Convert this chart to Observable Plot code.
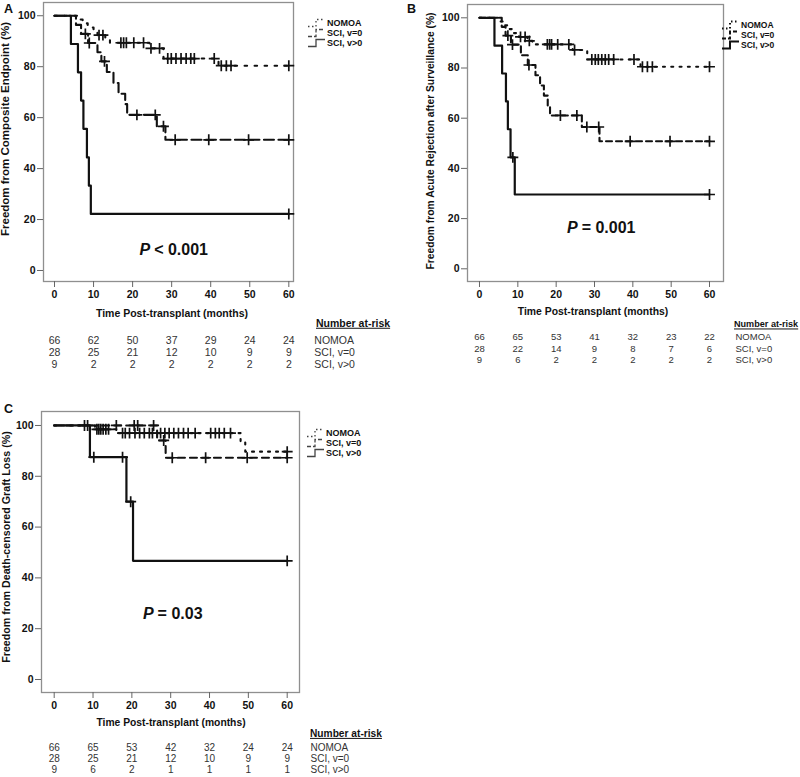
<!DOCTYPE html>
<html>
<head>
<meta charset="utf-8">
<script src="https://cdn.jsdelivr.net/npm/d3@7"></script>
<script src="https://cdn.jsdelivr.net/npm/@observablehq/plot@0.6"></script>
<style>
  body { margin: 0; background: #fff; }
  #root { position: relative; width: 800px; height: 777px; overflow: hidden; background: #fff;
          font-family: "Liberation Sans", Arial, sans-serif; color: #111; }
  .panel { position: absolute; }
  .t { position: absolute; white-space: nowrap; font-weight: bold; line-height: 1; }
  .rot { transform: translate(-50%, -50%) rotate(-90deg); }
  .ctr { transform: translate(-50%, -50%); }
  .mid { transform: translateY(-50%); }
  .hdr { text-decoration: underline; }
  .leg { position: absolute; display: flex; align-items: center; white-space: nowrap; font-weight: bold; line-height: 1; transform: translateY(-50%); }
  .leg svg { margin-right: 1px; }
</style>
</head>
<body>
<div id="root"></div>
<script>
// ---------------- DATA ----------------
const xTicks = [0, 10, 20, 30, 40, 50, 60];
const yTicks = [0, 20, 40, 60, 80, 100];
const groups = ["NOMOA", "SCI, v=0", "SCI, v>0"];

// Panel A: Freedom from Composite Endpoint
const aNomoaTime = [0, 6.0, 7.2, 8.5, 10.0, 11.0, 13.0, 14.2, 24.3, 27.9, 42.0, 60];
const aNomoaSurv = [100, 98.5, 97.0, 95.4, 93.9, 92.4, 90.8, 89.4, 87.2, 83.2, 80.4, 80.4];
const aNomoaCens = [11.4, 12.4, 17.0, 17.7, 18.4, 20.3, 22.8, 24.7, 26.9, 29.0, 29.9, 31.1, 32.4, 33.7, 34.9, 35.8, 40.9, 42.7, 44.0, 45.2, 60];
const aV0Time = [0, 5.5, 6.8, 8.6, 11.0, 12.0, 13.4, 15.1, 16.4, 18.1, 18.6, 26.2, 28.4, 60];
const aV0Surv = [100, 96.4, 92.9, 89.3, 85.7, 82.1, 77.9, 73.6, 69.4, 65.3, 61.1, 56.6, 51.3, 51.3];
const aV0Cens = [7.9, 8.9, 12.8, 21.1, 25.8, 27.9, 30.9, 39.5, 49.7, 60];
const aVpTime = [0, 4.2, 6.0, 6.8, 7.4, 8.3, 8.8, 9.3, 60];
const aVpSurv = [100, 88.9, 77.8, 66.7, 55.6, 44.4, 33.3, 22.2, 22.2];
const aVpCens = [60];
const aRiskNomoa = [66, 62, 50, 37, 29, 24, 24];
const aRiskV0 = [28, 25, 21, 12, 10, 9, 9];
const aRiskVp = [9, 2, 2, 2, 2, 2, 2];

// Panel B: Freedom from Acute Rejection after Surveillance
const bNomoaTime = [0, 5.2, 6.2, 7.5, 9.0, 10.3, 12.5, 13.8, 24.3, 28.1, 42.0, 60];
const bNomoaSurv = [100, 98.5, 97.0, 95.5, 93.9, 92.4, 90.8, 89.4, 87.2, 83.4, 80.5, 80.5];
const bNomoaCens = [10.7, 11.9, 13.0, 17.7, 18.3, 18.8, 20.4, 23.3, 24.8, 29.3, 30.2, 31.0, 31.9, 32.8, 33.7, 35.0, 40.3, 42.5, 43.8, 45.1, 60];
const bV0Time = [0, 5.8, 6.8, 8.2, 10.8, 12.6, 14.6, 15.8, 16.8, 17.8, 18.4, 26.7, 31.3, 60];
const bV0Surv = [100, 96.4, 92.9, 89.3, 85.1, 81.2, 77.1, 73.0, 69.0, 65.0, 61.1, 56.5, 50.8, 50.8];
const bV0Cens = [7.4, 8.6, 12.9, 21.1, 25.4, 28.0, 31.1, 39.3, 49.7, 60];
const bVpTime = [0, 3.9, 5.9, 6.9, 7.4, 8.1, 9.2, 60];
const bVpSurv = [100, 88.9, 77.8, 66.7, 55.6, 44.4, 29.6, 29.6];
const bVpCens = [8.7, 60];
const bRiskNomoa = [66, 65, 53, 41, 32, 23, 22];
const bRiskV0 = [28, 22, 14, 9, 8, 7, 6];
const bRiskVp = [9, 6, 2, 2, 2, 2, 2];

// Panel C: Freedom from Death-censored Graft Loss
const cNomoaTime = [0, 10.5, 16.3, 48.0, 49.2, 60];
const cNomoaSurv = [100, 98.5, 97.0, 93.3, 89.7, 89.7];
const cNomoaCens = [11.0, 11.5, 12.0, 12.6, 13.3, 14.0, 17.6, 18.3, 19.4, 20.8, 22.0, 23.2, 24.5, 25.3, 27.4, 28.5, 29.6, 30.8, 32.0, 33.3, 34.5, 36.3, 40.3, 41.5, 42.5, 43.8, 45.4, 60];
const cV0Time = [0, 26.5, 28.7, 60];
const cV0Surv = [100, 94.1, 87.3, 87.3];
const cV0Cens = [16.0, 20.6, 21.5, 25.6, 28.2, 30.4, 39.0, 49.7, 60];
const cVpTime = [0, 9.2, 18.6, 20.3, 60];
const cVpSurv = [100, 87.5, 70.0, 46.7, 46.7];
const cVpCens = [7.8, 8.6, 10.2, 17.6, 19.7, 60];
const cRiskNomoa = [66, 65, 53, 42, 32, 24, 24];
const cRiskV0 = [28, 25, 21, 12, 10, 9, 9];
const cRiskVp = [9, 6, 2, 1, 1, 1, 1];

const yTitles = ["Freedom from Composite Endpoint (%)", "Freedom from Acute Rejection after Surveillance (%)", "Freedom from Death-censored Graft Loss (%)"];
const xTitle = "Time Post-transplant (months)";
const panelLetters = ["A", "B", "C"];
const pOps = ["< 0.001", "= 0.001", "= 0.03"];
const riskHeader = "Number at-risk";

// ---------------- LAYOUT ----------------
const FONT = '"Liberation Sans", Arial, sans-serif';
const panels = [
  { letter: panelLetters[0], left: 0, top: 0, height: 380, m: [2, 107, 99, 43],
    xd: [-2.82, 61.2], yd: [-4.32, 105.2],
    curves: [[aNomoaTime, aNomoaSurv, aNomoaCens], [aV0Time, aV0Surv, aV0Cens], [aVpTime, aVpSurv, aVpCens]],
    risk: [aRiskNomoa, aRiskV0, aRiskVp], riskDy: [62, 74, 86], riskDx: 25.5, riskSize: 10.5,
    dash: ["2.5,7.5", "10,4.5", null], pAt: [24.5, 7.9], pOp: pOps[0],
    yTitle: yTitles[0], yT: [6, 129, 11.5], xT: [172, 313, 10.5], letterPos: [4, 3],
    leg: [308, [23.3, 33.3, 43.3], 9, "#444", 1.3], hdr: [316, 323, 10.5] },
  { letter: panelLetters[1], left: 400, top: 0, height: 380, m: [4, 77, 99, 67],
    xd: [-3.13, 63.65], yd: [-5.06, 105.3],
    curves: [[bNomoaTime, bNomoaSurv, bNomoaCens], [bV0Time, bV0Surv, bV0Cens], [bVpTime, bVpSurv, bVpCens]],
    risk: [bRiskNomoa, bRiskV0, bRiskVp], riskDy: [58, 70, 81], riskDx: 26, riskSize: 9.5,
    dash: ["2,6.3", "6,4", null], pAt: [25.6, 16.5], pOp: pOps[1],
    yTitle: yTitles[1], yT: [431, 141, 10.3], xT: [593, 312, 10.4], letterPos: [407, 3],
    leg: [722, [25, 35, 45], 8.5, "#111", 2], hdr: [734, 325, 9.1] },
  { letter: panelLetters[2], left: 0, top: 400, height: 377, m: [11, 101, 85, 41],
    xd: [-3.27, 63.17], yd: [-5.12, 105.5],
    curves: [[cNomoaTime, cNomoaSurv, cNomoaCens], [cV0Time, cV0Surv, cV0Cens], [cVpTime, cVpSurv, cVpCens]],
    risk: [cRiskNomoa, cRiskV0, cRiskVp], riskDy: [58, 69, 80], riskDx: 23.3, riskSize: 10,
    dash: ["2,6", "7,5", null], pAt: [25.6, 26.0], pOp: pOps[2],
    yTitle: yTitles[2], yT: [6, 547, 10.7], xT: [171, 723, 10.3], letterPos: [4, 403],
    leg: [307, [433, 443, 453], 9, "#444", 1.3], hdr: [310, 734, 10.2] }
];

const root = document.getElementById("root");

function survAt(time, surv, t) {
  let v = surv[0];
  for (let i = 0; i < time.length; i++) if (time[i] <= t) v = surv[i];
  return v;
}

function addText(txt, x, y, size, cls, extra = "") {
  const d = document.createElement("div");
  d.className = "t " + cls;
  d.style.left = x + "px";
  d.style.top = y + "px";
  d.style.fontSize = size + "px";
  if (extra) d.style.cssText += extra;
  d.textContent = txt;
  root.appendChild(d);
}

for (const P of panels) {
  const steps = [], cens = [];
  P.curves.forEach(([time, surv, cs], gi) => {
    time.forEach((t, i) => steps.push({ g: groups[gi], t, s: surv[i] }));
    cs.forEach(t => cens.push({ g: groups[gi], t, s: survAt(time, surv, t) }));
  });
  const riskMarks = P.risk.map((row, ri) => Plot.text(xTicks.map((m, i) => ({ t: m, n: row[i] })), {
    x: "t", text: d => String(d.n), frameAnchor: "bottom", dy: P.riskDy[ri],
    fontSize: P.riskSize, fill: "#333", fontWeight: "normal"
  }));
  const labelMarks = groups.map((g, ri) => Plot.text([{ t: 60, g }], {
    x: "t", text: "g", frameAnchor: "bottom", dy: P.riskDy[ri], dx: P.riskDx,
    textAnchor: "start", fontSize: P.riskSize, fill: "#333"
  }));
  const lineMarks = groups.map((g, gi) => Plot.line(steps.filter(d => d.g === g), {
    x: "t", y: "s", curve: "step-after", stroke: "#111",
    strokeWidth: gi === 2 ? 2.2 : 2.1, strokeDasharray: P.dash[gi] || undefined
  }));
  const pData = [{ t: P.pAt[0], s: P.pAt[1], op: P.pOp }];

  const svg = Plot.plot({
    width: 400, height: P.height,
    marginTop: P.m[0], marginRight: P.m[1], marginBottom: P.m[2], marginLeft: P.m[3],
    style: { fontFamily: FONT, background: "transparent", overflow: "visible" },
    x: { domain: P.xd },
    y: { domain: P.yd },
    marks: [
      Plot.frame({ stroke: "#8f8f8f", strokeWidth: 1.3 }),
      Plot.axisX(xTicks, { tickSize: 6, tickPadding: 3, fontSize: 10.5, fontWeight: "bold", fill: "#111", stroke: "#666", label: null }),
      Plot.axisY(yTicks, { tickSize: 6, tickPadding: 2, fontSize: 10.5, fontWeight: "bold", fill: "#111", stroke: "#666", label: null }),
      ...lineMarks,
      Plot.dot(cens, { x: "t", y: "s", symbol: "plus", r: 3.6, stroke: "#111", strokeWidth: 1.7 }),
      Plot.text(pData, { x: "t", y: "s", text: () => "P", textAnchor: "end", fontSize: 16, fontStyle: "italic", fontWeight: "bold", fill: "#111" }),
      Plot.text(pData, { x: "t", y: "s", text: "op", textAnchor: "start", dx: 4, fontSize: 16, fontWeight: "bold", fill: "#111" }),
      ...riskMarks,
      ...labelMarks
    ]
  });
  const wrap = document.createElement("div");
  wrap.className = "panel";
  wrap.style.left = P.left + "px";
  wrap.style.top = P.top + "px";
  wrap.appendChild(svg);
  root.appendChild(wrap);

  // titles & labels
  addText(P.letter, P.letterPos[0], P.letterPos[1], 12.5, "");
  addText(P.yTitle, P.yT[0], P.yT[1], P.yT[2], "rot");
  addText(xTitle, P.xT[0], P.xT[1], P.xT[2], "ctr");
  addText(riskHeader, P.hdr[0], P.hdr[1], P.hdr[2], "mid hdr");

  // legend
  const [lx, ly, lsize, lcol, lw] = P.leg;
  groups.forEach((g, gi) => {
    const d = document.createElement("div");
    d.className = "leg";
    d.style.left = lx + "px";
    d.style.top = ly[gi] + "px";
    d.style.fontSize = lsize + "px";
    const dash = gi === 0 ? "1.5,2.5" : gi === 1 ? "4,2" : "none";
    d.innerHTML = `<svg width="18" height="10" viewBox="0 0 18 10"><path d="M0,8.5 H8 V1.5 H17" fill="none" stroke="${lcol}" stroke-width="${lw}" stroke-dasharray="${dash}"/></svg><span></span>`;
    d.querySelector("span").textContent = g;
    root.appendChild(d);
  });
}
</script>
</body>
</html>
